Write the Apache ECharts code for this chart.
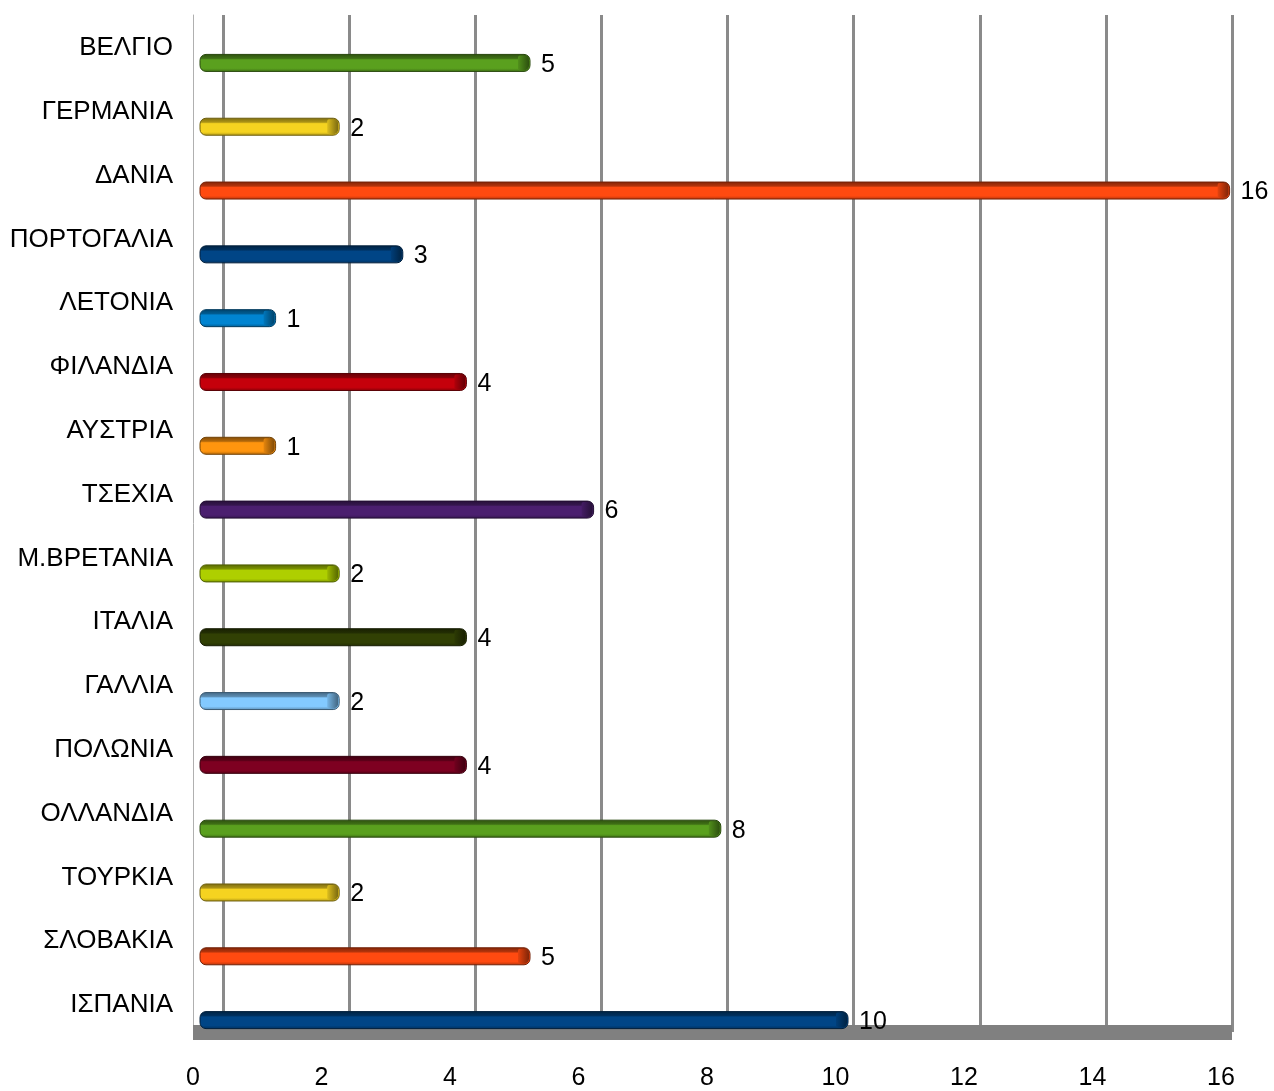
<!DOCTYPE html>
<html><head><meta charset="utf-8">
<script src="https://cdn.jsdelivr.net/npm/echarts@6/dist/echarts.min.js"></script>
<style>html,body{margin:0;padding:0;background:#fff}#c{width:1274px;height:1091px}</style>
</head><body><div id="c"></div>
<script>
const categories = ['ΒΕΛΓΙΟ','ΓΕΡΜΑΝΙΑ','ΔΑΝΙΑ','ΠΟΡΤΟΓΑΛΙΑ','ΛΕΤΟΝΙΑ','ΦΙΛΑΝΔΙΑ','ΑΥΣΤΡΙΑ','ΤΣΕΧΙΑ','Μ.ΒΡΕΤΑΝΙΑ','ΙΤΑΛΙΑ','ΓΑΛΛΙΑ','ΠΟΛΩΝΙΑ','ΟΛΛΑΝΔΙΑ','ΤΟΥΡΚΙΑ','ΣΛΟΒΑΚΙΑ','ΙΣΠΑΝΙΑ'];
const values = [5,2,16,3,1,4,1,6,2,4,2,4,8,2,5,10];
const palette = ['#5aa01e','#f5d320','#ff4a10','#004586','#0084d1','#c5000b','#ff950e','#4b1f6f','#aecf00','#314004','#83caff','#7e0021'];
const xTicks = {min:0, max:16, interval:2};

const font = 'Liberation Sans, Arial, sans-serif';
const chart = echarts.init(document.getElementById('c'));

function dark(c, f){
  const a = echarts.color.parse(c);
  return 'rgb(' + [0,1,2].map(i=>Math.round(a[i]*(1-f))).join(',') + ')';
}
function grad(c){
  return {type:'linear',x:0,y:0,x2:0,y2:1,colorStops:[
    {offset:0,color:dark(c,0.5)},
    {offset:0.25,color:dark(c,0.3)},
    {offset:0.33,color:c},
    {offset:0.8,color:c},
    {offset:1,color:dark(c,0.3)}]};
}
function renderBar(params, api){
  const v = api.value(0), cat = api.value(1);
  const s = api.coord([0, cat]), e = api.coord([v, cat]);
  const c = palette[params.dataIndex % palette.length];
  const h = 17, cap = 12, x0 = s[0] - 12, x1 = e[0], y = e[1];
  return {type:'group', children:[
    {type:'rect', shape:{x:x0, y:y-h/2, width:x1-x0, height:h, r:[6,6,6,6]},
      style:{fill:grad(c), stroke:dark(c,0.55), lineWidth:1}},
    {type:'rect', shape:{x:x1-cap, y:y-h/2+1, width:cap-1, height:h-2, r:[2,5,5,2]},
      style:{fill:{type:'linear',x:0,y:0,x2:1,y2:0,colorStops:[
        {offset:0,color:dark(c,0.1)},{offset:1,color:dark(c,0.5)}]}}},
    {type:'text', x:x1+11, y:y+2,
      style:{text:String(v), fill:'#000', font:'25px '+font, verticalAlign:'middle', align:'left'}}
  ]};
}

chart.setOption({
  animation:false,
  grid:[
    {left:212,right:1274-212-63.6*16,top:31,bottom:39},
    {left:223,right:42,top:15,bottom:59},
    {left:193,right:53,top:15,bottom:59}
  ],
  xAxis:[
    {gridIndex:0,type:'value',min:xTicks.min,max:xTicks.max,interval:xTicks.interval,show:false,splitLine:{show:false}},
    {gridIndex:1,type:'value',min:xTicks.min,max:xTicks.max,interval:xTicks.interval,
      axisLine:{show:true,lineStyle:{color:'#808080',width:15,cap:'butt'}},axisTick:{show:false},axisLabel:{show:false},
      splitLine:{show:true,lineStyle:{color:'#8a8a8a',width:3}}},
    {gridIndex:2,type:'value',min:xTicks.min,max:xTicks.max,interval:xTicks.interval,
      axisLine:{show:true,lineStyle:{color:'#808080',width:15,cap:'butt'}},axisTick:{show:false},
      splitLine:{show:false},
      axisLabel:{margin:34,fontSize:25,color:'#000',fontFamily:font}}
  ],
  yAxis:[
    {gridIndex:0,type:'category',data:categories,inverse:true,
      axisLine:{show:false},axisTick:{show:false},
      axisLabel:{margin:39,fontSize:26,color:'#000',fontFamily:font,verticalAlign:'bottom',lineHeight:30}},
    {gridIndex:1,type:'value',show:false,splitLine:{show:false},min:0,max:1},
    {gridIndex:2,type:'value',min:0,max:1,axisLabel:{show:false},axisTick:{show:false},splitLine:{show:false},
      axisLine:{show:true,lineStyle:{color:'#b0b0b0',width:1}}}
  ],
  series:[{
    type:'custom',xAxisIndex:0,yAxisIndex:0,z:5,
    data:values.map((v,i)=>[v,i]),
    encode:{x:0,y:1},
    renderItem:renderBar
  }]
});
</script></body></html>
